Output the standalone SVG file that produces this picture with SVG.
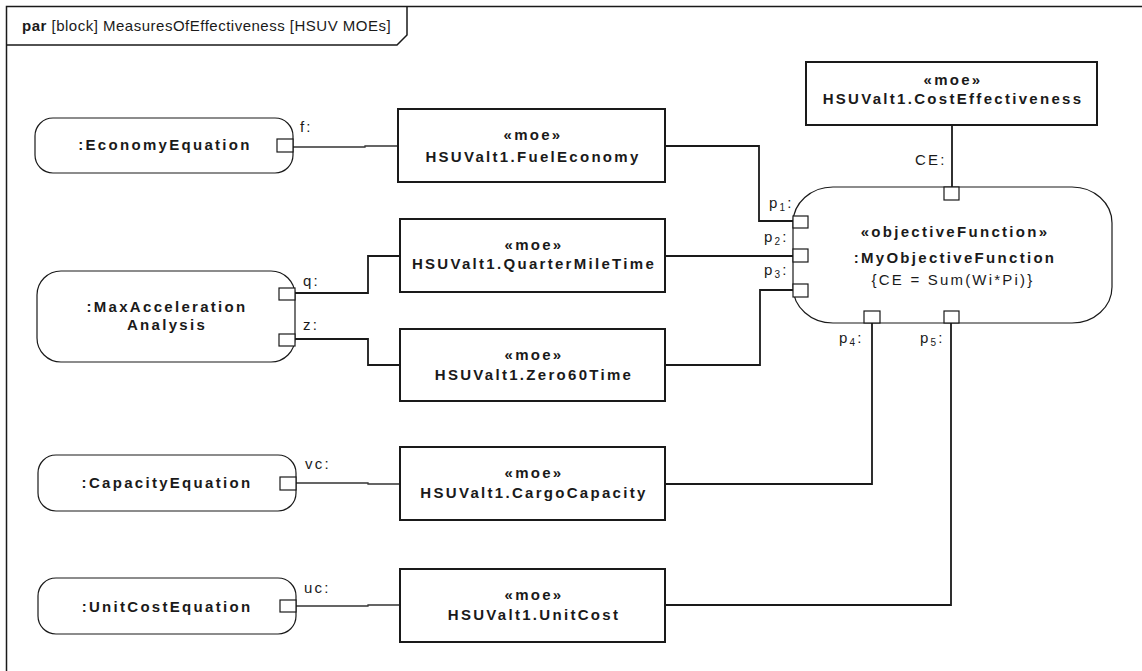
<svg xmlns="http://www.w3.org/2000/svg" width="1142" height="671" viewBox="0 0 1142 671">
<style>
text{font-family:"Liberation Sans",Arial,sans-serif;fill:#1a1a1a}
.b{font-weight:bold;font-size:15px;letter-spacing:2.3px;text-anchor:middle}
.r{font-size:15px;letter-spacing:2.2px}
.sub{font-size:10px}
.t{font-size:15px;letter-spacing:0.5px}
.box{fill:#fff;stroke:#1a1a1a;stroke-width:2}
.rnd{fill:#fff;stroke:#1a1a1a;stroke-width:1.2}
.port{fill:#fff;stroke:#1a1a1a;stroke-width:1.2}
.c{fill:none;stroke:#1a1a1a;stroke-width:1.8}
.c1{fill:none;stroke:#333;stroke-width:1.3}
.frame{fill:none;stroke:#1a1a1a;stroke-width:1.5}
</style>
<rect x="0" y="0" width="1142" height="671" fill="#fff"/>
<g id="frame">
<path class="frame" d="M6.5,671 V6.5 H1142"/>
<path class="frame" d="M6.5,45 H397 L407,35 V6.5"/>
<text x="22" y="31" class="t"><tspan font-weight="bold">par</tspan> [block] MeasuresOfEffectiveness [HSUV MOEs]</text>
</g>
<g id="connectors">
<path class="c1" d="M293,147 H365 V146 H398"/>
<path class="c" d="M665,146 H759 V221 H793"/>
<path class="c" d="M295,293 H368 V256 H400"/>
<path class="c" d="M665,256 H793"/>
<path class="c" d="M295,339 H368 V365 H400"/>
<path class="c" d="M665,365 H760 V290 H793"/>
<path class="c1" d="M296,483 H368 V484 H400"/>
<path class="c" d="M665,484 H872 V323"/>
<path class="c1" d="M296,606 H368 V605 H400"/>
<path class="c" d="M665,605 H951 V323"/>
<path class="c" d="M952,125 V187"/>
</g>
<g id="economyEquation">
<rect class="rnd" x="35" y="118" width="258" height="55" rx="18" ry="18"/>
<rect class="port" x="277" y="139" width="16" height="13"/>
<text class="b" x="165" y="150">:EconomyEquation</text>
<text class="r" x="300" y="132">f:</text>
</g>
<g id="maxAcceleration">
<rect class="rnd" x="37" y="271" width="258" height="91" rx="24" ry="24"/>
<rect class="port" x="279" y="288" width="16" height="12"/>
<rect class="port" x="279" y="334" width="16" height="12"/>
<text class="b" x="167" y="312">:MaxAcceleration</text>
<text class="b" x="167" y="330">Analysis</text>
<text class="r" x="303" y="286">q:</text>
<text class="r" x="303" y="330">z:</text>
</g>
<g id="capacityEquation">
<rect class="rnd" x="38" y="455" width="258" height="56" rx="18" ry="18"/>
<rect class="port" x="280" y="477" width="16" height="13"/>
<text class="b" x="167" y="488">:CapacityEquation</text>
<text class="r" x="305" y="469">vc:</text>
</g>
<g id="unitCostEquation">
<rect class="rnd" x="38" y="578" width="258" height="56" rx="18" ry="18"/>
<rect class="port" x="280" y="600" width="16" height="12"/>
<text class="b" x="167" y="612">:UnitCostEquation</text>
<text class="r" x="304" y="593">uc:</text>
</g>
<g id="fuelEconomy">
<rect class="box" x="398" y="109" width="267" height="73"/>
<text class="b" x="533" y="140">«moe»</text>
<text class="b" x="533" y="162">HSUValt1.FuelEconomy</text>
</g>
<g id="quarterMileTime">
<rect class="box" x="400" y="219" width="265" height="73"/>
<text class="b" x="534" y="250">«moe»</text>
<text class="b" x="534" y="269">HSUValt1.QuarterMileTime</text>
</g>
<g id="zero60Time">
<rect class="box" x="400" y="329" width="265" height="72"/>
<text class="b" x="534" y="360">«moe»</text>
<text class="b" x="534" y="380">HSUValt1.Zero60Time</text>
</g>
<g id="cargoCapacity">
<rect class="box" x="400" y="447" width="265" height="73"/>
<text class="b" x="534" y="478">«moe»</text>
<text class="b" x="534" y="498">HSUValt1.CargoCapacity</text>
</g>
<g id="unitCost">
<rect class="box" x="400" y="569" width="265" height="73"/>
<text class="b" x="534" y="600">«moe»</text>
<text class="b" x="534" y="620">HSUValt1.UnitCost</text>
</g>
<g id="costEffectiveness">
<rect class="box" x="806" y="62" width="291" height="63"/>
<text class="b" x="953" y="85">«moe»</text>
<text class="b" x="953" y="104">HSUValt1.CostEffectiveness</text>
</g>
<g id="objectiveFunction">
<rect class="rnd" x="793" y="187" width="319" height="136" rx="40" ry="36"/>
<rect class="port" x="944" y="187" width="15" height="13"/>
<rect class="port" x="793" y="216" width="15" height="12"/>
<rect class="port" x="793" y="249" width="15" height="13"/>
<rect class="port" x="793" y="284" width="15" height="13"/>
<rect class="port" x="864" y="311" width="16" height="12"/>
<rect class="port" x="944" y="311" width="15" height="12"/>
<text class="b" x="955" y="237">«objectiveFunction»</text>
<text class="b" x="955" y="263">:MyObjectiveFunction</text>
<text class="r" x="953" y="285" text-anchor="middle">{CE = Sum(Wi*Pi)}</text>
<text class="r" x="915" y="165">CE:</text>
<text class="r" x="769" y="208">p<tspan class="sub" dy="3">1</tspan><tspan dy="-3">:</tspan></text>
<text class="r" x="764" y="242">p<tspan class="sub" dy="3">2</tspan><tspan dy="-3">:</tspan></text>
<text class="r" x="764" y="275">p<tspan class="sub" dy="3">3</tspan><tspan dy="-3">:</tspan></text>
<text class="r" x="839" y="343">p<tspan class="sub" dy="3">4</tspan><tspan dy="-3">:</tspan></text>
<text class="r" x="920" y="343">p<tspan class="sub" dy="3">5</tspan><tspan dy="-3">:</tspan></text>
</g>
</svg>
